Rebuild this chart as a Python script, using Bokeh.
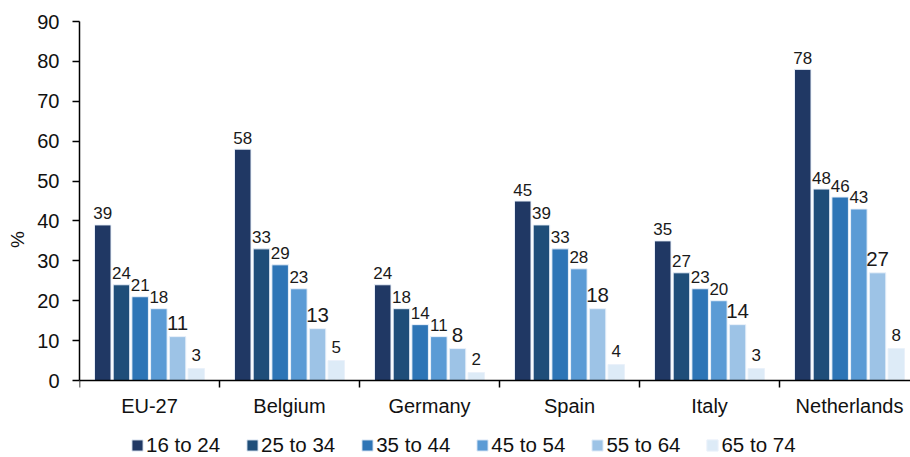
import numpy as np
from bokeh.plotting import figure
from bokeh.models import ColumnDataSource, FixedTicker, Legend, LegendItem, Range1d
from bokeh.transform import dodge
from bokeh.core.properties import value
from bokeh.embed import file_html
from bokeh.resources import INLINE

countries = ["EU-27", "Belgium", "Germany", "Spain", "Italy", "Netherlands"]
age_groups = ["16 to 24", "25 to 34", "35 to 44", "45 to 54", "55 to 64", "65 to 74"]
v_16_24 = [39, 58, 24, 45, 35, 78]
v_25_34 = [24, 33, 18, 39, 27, 48]
v_35_44 = [21, 29, 14, 33, 23, 46]
v_45_54 = [18, 23, 11, 28, 20, 43]
v_55_64 = [11, 13, 8, 18, 14, 27]
v_65_74 = [3, 5, 2, 4, 3, 8]
y_ticks = [0, 10, 20, 30, 40, 50, 60, 70, 80, 90]

series = [v_16_24, v_25_34, v_35_44, v_45_54, v_55_64, v_65_74]
colors = ["#203864", "#1F4E79", "#2E75B6", "#5B9BD5", "#9DC3E6", "#DDEBF7"]
FONT = "Liberation Sans"

centers = np.arange(len(countries)) + 0.5
data = {"x": centers}
for i, s in enumerate(series):
    data[f"s{i}"] = s
    data[f"l{i}"] = [str(v) for v in s]
src = ColumnDataSource(data)

# frame: top 21 .. bottom 457 ; y=0 at 380 ; y=90 at 21
px_per_unit = 359 / 90
y_low = -77 / px_per_unit

p = figure(width=910, height=457, output_backend="svg", toolbar_location=None,
           x_range=Range1d(0, 831 / 140), y_range=Range1d(y_low, 90),
           min_border_left=79, min_border_right=0, min_border_top=21,
           min_border_bottom=0)
p.outline_line_color = None
p.xgrid.visible = False
p.ygrid.visible = False
p.background_fill_color = "white"
p.border_fill_color = "white"

step = 0.1336
width = 0.118
items = []
for i, name in enumerate(age_groups):
    off = (i - 2.5) * step
    r = p.vbar(x=dodge("x", off, range=p.x_range), top=f"s{i}", width=width,
               bottom=0, source=src, fill_color=colors[i], line_color="#EAF1FA",
               line_width=1)
    big = (i == 4)
    p.text(x=dodge("x", off, range=p.x_range), y=f"s{i}", text=f"l{i}", source=src,
           text_align="center", text_baseline="alphabetic",
           y_offset=-13.5 if i >= 4 else -11.5,
           text_font=value(FONT), text_font_size="20.5px" if big else "17px",
           text_color="#1a1a1a")
    items.append(LegendItem(label=name, renderers=[r]))

# x axis at y = 0
p.xaxis.fixed_location = 0
p.xaxis.ticker = FixedTicker(ticks=list(centers), minor_ticks=list(range(len(countries) + 1)))
p.xaxis.major_label_overrides = {float(c): n for c, n in zip(centers, countries)}
p.xaxis.major_tick_line_color = None
p.xaxis.minor_tick_line_color = "black"
p.xaxis.minor_tick_out = 7
p.xaxis.minor_tick_in = 0
p.xaxis.minor_tick_line_width = 1.5
p.xaxis.axis_line_color = "black"
p.xaxis.axis_line_width = 1.5
p.xaxis.major_label_text_font = FONT
p.xaxis.major_label_text_font_size = "20px"
p.xaxis.major_label_text_color = "#111111"
p.xaxis.major_label_standoff = 7

p.yaxis.bounds = (0, 90)
p.yaxis.ticker = FixedTicker(ticks=y_ticks)
p.yaxis.minor_tick_line_color = None
p.yaxis.major_tick_out = 7
p.yaxis.major_tick_in = 0
p.yaxis.axis_line_color = "black"
p.yaxis.axis_line_width = 1.5
p.yaxis.major_tick_line_width = 1.5
p.yaxis.major_label_text_font = FONT
p.yaxis.major_label_text_font_size = "20px"
p.yaxis.major_label_text_color = "#111111"
p.yaxis.major_label_standoff = 13
p.yaxis.axis_label = "%"
p.yaxis.axis_label_text_font = FONT
p.yaxis.axis_label_text_font_size = "19px"
p.yaxis.axis_label_text_font_style = "normal"
p.yaxis.axis_label_text_color = "#111111"
p.yaxis.axis_label_standoff = 6

legend = Legend(items=items, orientation="horizontal", location=(51, 0),
                glyph_width=14, glyph_height=14, label_standoff=2, spacing=25,
                padding=0, margin=0, border_line_color=None,
                background_fill_alpha=0, label_text_font=FONT,
                label_text_font_size="20.5px", label_text_color="#111111",
                label_height=13)
p.add_layout(legend, "center")

open("out.html", "w").write(file_html(p, INLINE))
